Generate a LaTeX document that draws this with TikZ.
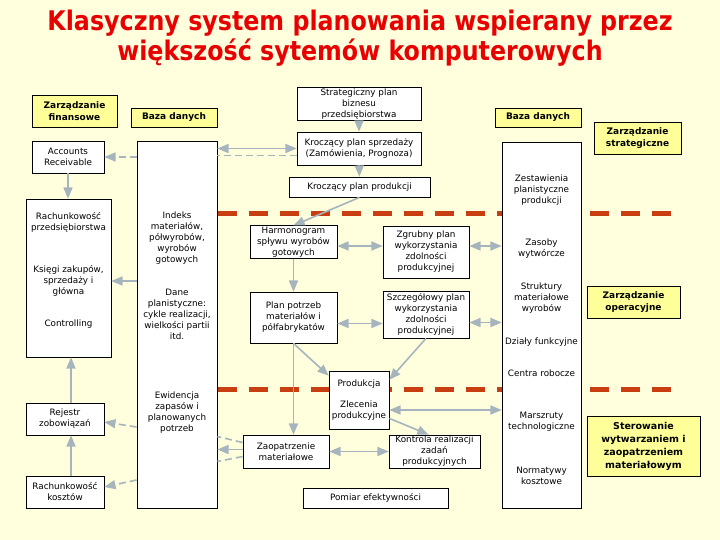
\documentclass[tikz,border=0pt]{standalone}
\usepackage{fontspec}
\setmainfont{DejaVu Sans}
\newfontfamily\tytulfont[FakeStretch=0.88]{DejaVu Sans}
\usetikzlibrary{arrows,calc}

\definecolor{tlo}{RGB}{255,255,221}
\definecolor{zolty}{RGB}{255,255,153}
\definecolor{szary}{RGB}{166,180,190}
\definecolor{ceglasty}{RGB}{200,62,16}
\definecolor{tytulowy}{RGB}{232,0,0}

\begin{document}
\begin{tikzpicture}[x=1pt, y=-1pt, >=triangle 45,
			box/.style={draw, fill=white, line width=0.8pt, align=center, inner sep=1pt,
				font=\fontsize{8.8}{11}\selectfont},
			zbox/.style={box, fill=zolty, font=\bfseries\fontsize{9}{12}\selectfont},
			txt/.style={align=center, inner sep=0pt, font=\fontsize{8.8}{11}\selectfont},
			sz/.style 2 args={minimum width=#1pt, minimum height=#2pt},
			conn/.style={color=szary, line width=1.6pt},
			przer/.style={dash pattern=on 7pt off 4pt},
			czerwona/.style={draw=ceglasty, line width=5pt, dash pattern=on 19pt off 12pt}]
			\fill[tlo] (0,0) rectangle (720,540);
			\node[font=\tytulfont\bfseries\fontsize{27}{30}\selectfont, text=tytulowy, align=center] (tytul) at (360,38)
				{Klasyczny system planowania wspierany przez\\większość sytemów komputerowych};
			
			% linie poziomow zarzadzania
			\coordinate (g1) at (218,214);
			\coordinate (g2) at (678,214);
			\coordinate (d1) at (218,389);
			\coordinate (d2) at (678,389);
			\path[czerwona] (g1) -- (g2) (d1) -- (d2);
			
			\node[zbox, sz={85}{32}] (fin) at (74.5,111) {Zarządzanie\\finansowe};
			\node[zbox, sz={86}{19}] (baza1) at (174,117.5) {Baza danych};
			\node[box, sz={72}{32}] (ar) at (68,157) {Accounts\\Receivable};
			\node[box, sz={85}{158}] (colL) at (68.5,278) {};
			\node[box, sz={80}{367}] (colM) at (177,324.5) {};
			\node[box, sz={79}{366}] (colR) at (541.5,325) {};
			\node[box, sz={78}{32}] (rej) at (65,419) {Rejestr\\zobowiązań};
			\node[box, sz={78}{32}] (rk) at (65,492) {Rachunkowość\\kosztów};
			\node[box, sz={124}{32}] (strat) at (359,104) {Strategiczny plan\\biznesu\\przedsiębiorstwa};
			\node[box, sz={124}{33}] (kps) at (359,148.5) {Kroczący plan sprzedaży\\(Zamówienia, Prognoza)};
			\node[box, sz={141}{20}] (kpp) at (359.5,187) {Kroczący plan produkcji};
			\node[zbox, sz={86}{19}] (baza2) at (538,117.5) {Baza danych};
			\node[zbox, sz={87}{32}] (strg) at (637.5,138) {Zarządzanie\\strategiczne};
			\node[box, sz={87}{32}] (harm) at (293.5,242) {Harmonogram\\spływu wyrobów\\gotowych};
			\node[box, sz={86}{52}] (zgr) at (426,252) {Zgrubny plan\\wykorzystania\\zdolności\\produkcyjnej};
			\node[box, sz={87}{51}] (ppm) at (293.5,317.5) {Plan potrzeb\\materiałów i\\półfabrykatów};
			\node[box, sz={86}{47}] (szcz) at (426,314.5) {Szczegółowy plan\\wykorzystania\\zdolności\\produkcyjnej};
			\node[box, sz={60}{58}] (prod) at (359,400) {Produkcja\\[10pt]Zlecenia\\produkcyjne};
			\node[box, sz={86}{33}] (zaop) at (286,451.5) {Zaopatrzenie\\materiałowe};
			\node[box, sz={91}{33}] (kontr) at (434.5,451.5) {Kontrola realizacji\\zadań\\produkcyjnych};
			\node[box, sz={145}{20}] (pomiar) at (375.5,498) {Pomiar efektywności};
			\node[zbox, sz={93}{32}] (oper) at (633.5,302) {Zarządzanie\\operacyjne};
			\node[zbox, sz={113}{60}, font=\bfseries\fontsize{9.5}{13}\selectfont] (ster) at (643.5,446)
				{Sterowanie\\wytwarzaniem i\\zaopatrzeniem\\materiałowym};
			
			% zawartosc kolumn
			\node[txt] (rachp) at (68.5,222) {Rachunkowość\\przedsiębiorstwa};
			\node[txt] (ksiegi) at (68.5,281) {Księgi zakupów,\\sprzedaży i\\główna};
			\node[txt] (contr) at (68.5,324) {Controlling};
			\node[txt] (indeks) at (177,238) {Indeks\\materiałów,\\półwyrobów,\\wyrobów\\gotowych};
			\node[txt] (dane) at (177,314) {Dane\\planistyczne:\\cykle realizacji,\\wielkości partii\\itd.};
			\node[txt] (ewid) at (177,413) {Ewidencja\\zapasów i\\planowanych\\potrzeb};
			\node[txt] (zest) at (541.5,190) {Zestawienia\\planistyczne\\produkcji};
			\node[txt] (zas) at (541.5,249) {Zasoby\\wytwórcze};
			\node[txt] (strukt) at (541.5,298) {Struktury\\materiałowe\\wyrobów};
			\node[txt] (dzialy) at (541.5,342) {Działy funkcyjne};
			\node[txt] (centra) at (541.5,373) {Centra robocze};
			\node[txt] (marsz) at (541.5,422) {Marszruty\\technologiczne};
			\node[txt] (norm) at (541.5,476) {Normatywy\\kosztowe};
			
			\path[conn, ->] (strat) edge (kps)
				(kps) edge (kpp)
				(kpp.south) edge (harm.north)
				(ar.south) edge (ar.south |- colL.north)
				(colM.west |- ksiegi.east) edge (colL.east |- ksiegi.east)
				($(rej.north)+(6,0)$) edge ($(rej.north |- colL.south)+(6,0)$)
				($(rk.north)+(6,0)$) edge ($(rej.south)+(6,0)$)
				($(zaop.west)+(0,-2)$) edge ($(zaop.west -| colM.east)+(0,-2)$)
				(harm) edge (ppm)
				(ppm.south) edge ($(prod.north west)+(0,5)$)
				(ppm.south) edge (ppm.south |- zaop.north)
				(szcz.south) edge ($(prod.north east)+(0,9)$)
				($(prod.south east)+(0,-11)$) edge ($(kontr.north)+(-6,0)$);
			\path[conn, <->] (kps.west) edge (kps.west -| colM.east)
				($(harm.east)+(0,4)$) edge ($(harm.east -| zgr.west)+(0,4)$)
				($(ppm.east)+(0,6)$) edge ($(ppm.east -| szcz.west)+(0,6)$)
				($(zgr.east)+(0,-6)$) edge ($(zgr.east -| colR.west)+(0,-6)$)
				($(szcz.east)+(0,8)$) edge ($(szcz.east -| colR.west)+(0,8)$)
				($(prod.east)+(0,10)$) edge ($(prod.east -| colR.west)+(0,10)$)
				(zaop.east) edge (kontr.west);
			\path[conn, przer] ($(kps.west)+(0,7)$) edge ($(kps.west -| colM.east)+(0,7)$)
				($(zaop.west)+(0,-9)$) edge ($(zaop.west -| colM.east)+(0,-15)$)
				($(zaop.west)+(0,5)$) edge ($(zaop.west -| colM.east)+(0,10)$);
			\path[conn, przer, ->] (colM.west |- ar.east) edge (ar.east)
				($(colM.west |- rej.east)+(0,8)$) edge ($(rej.east)+(0,3)$)
				($(colM.west |- rk.east)+(0,-12)$) edge ($(rk.east)+(0,-5)$);
			\end{tikzpicture}
\end{document}
